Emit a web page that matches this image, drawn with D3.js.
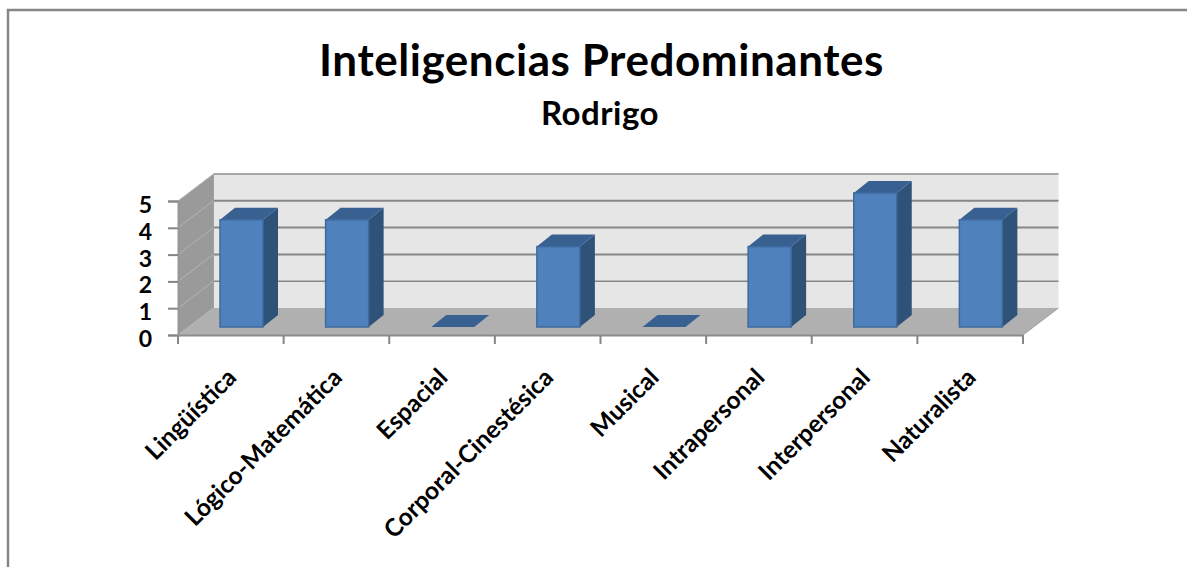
<!DOCTYPE html>
<html><head><meta charset="utf-8">
<script src="https://cdn.jsdelivr.net/npm/d3@7/dist/d3.min.js"></script>
<style>html,body{margin:0;padding:0;background:#fff}svg{display:block}text{font-family:Lato,"Open Sans",sans-serif;fill:#000}</style>
</head><body><svg id="c" width="1187" height="567"></svg>
<script>
const categories=["Lingüística","Lógico-Matemática","Espacial","Corporal-Cinestésica","Musical","Intrapersonal","Interpersonal","Naturalista"];
const values=[4,4,0,3,0,3,5,4];
const yTicks=[0,1,2,3,4,5];
const titleText="Inteligencias Predominantes";
const subtitleText="Rodrigo";

const svg=d3.select("#c");
const x=d3.scaleBand().domain(categories).range([178,1023]);
const y=d3.scaleLinear().domain([0,5]).range([335,201]);
const depthX=35.5, depthY=-27, barDX=15, barDY=-12, barShiftY=-8;
const barLeft=42, barW=43;
const xEnd=x.range()[1], xStart=x.range()[0];
const poly=p=>p.map(d=>d.join(",")).join(" ");

// frame
svg.append("path").attr("d","M8,567V10H1187").attr("fill","none").attr("stroke","#868686").attr("stroke-width",2.5);

// walls
const topY=y(5)+depthY;
svg.append("polygon").attr("points",poly([[xStart+depthX,topY],[xEnd+depthX,topY],[xEnd+depthX,y(0)+depthY],[xStart+depthX,y(0)+depthY]])).attr("fill","#e6e6e6");
svg.append("polygon").attr("points",poly([[xStart,y(5)],[xStart+depthX,topY],[xStart+depthX,y(0)+depthY],[xStart,y(0)]])).attr("fill","#9a9a9a");
svg.append("polygon").attr("points",poly([[xStart,y(0)],[xStart+depthX,y(0)+depthY],[xEnd+depthX,y(0)+depthY],[xEnd,y(0)]])).attr("fill","#b0b0b0");

// gridlines
const grid=svg.append("g").attr("fill","none").attr("stroke","#868686");
yTicks.forEach(t=>{
  if(t>0) grid.append("line").attr("x1",xStart+depthX).attr("x2",xEnd+depthX).attr("y1",y(t)+depthY).attr("y2",y(t)+depthY).attr("stroke",t===5?"#a8a8a8":"#868686").attr("stroke-width",t===1?1.5:2);
  grid.append("line").attr("x1",xStart).attr("x2",xStart+depthX).attr("y1",y(t)).attr("y2",y(t)+depthY).attr("stroke","#b4b4b4").attr("stroke-width",1);
});
grid.append("line").attr("x1",xStart+depthX).attr("x2",xStart+depthX).attr("y1",topY).attr("y2",y(0)+depthY).attr("stroke","#a0a0a0");
grid.append("line").attr("x1",xEnd).attr("x2",xEnd+depthX).attr("y1",y(0)).attr("y2",y(0)+depthY).attr("stroke","#a0a0a0");

// axes
const xAxis=d3.axisBottom(x).tickSize(0).tickFormat("");
const gx=svg.append("g").attr("transform",`translate(0,${y(0)})`).call(xAxis);
gx.select(".domain").attr("stroke","#8c8c8c").attr("stroke-width",2);
gx.selectAll(".tick").remove();
svg.append("g").selectAll("line").data(categories.map((c)=>x(c)).concat([xEnd])).join("line")
  .attr("x1",d=>d).attr("x2",d=>d).attr("y1",y(0)).attr("y2",y(0)+9).attr("stroke","#868686").attr("stroke-width",2);

const gy=svg.append("g").attr("transform",`translate(${xStart},0)`).call(d3.axisLeft(y).tickValues(yTicks).tickFormat(d3.format("d")).tickSize(10).tickPadding(16));
gy.select(".domain").attr("stroke","#969696").attr("stroke-width",2);
gy.selectAll("line").attr("stroke","#868686").attr("stroke-width",2);
gy.selectAll("text").attr("dy","0.5em").style("font-size","23px").style("font-weight",700).style("font-family","Lato");

// bars
const bars=svg.append("g").selectAll("g").data(categories.map((c,i)=>({c,v:values[i]}))).join("g");
bars.each(function(d){
  const g=d3.select(this), l=x(d.c)+barLeft, r=l+barW, b=y(0)+barShiftY, t=y(d.v)+barShiftY;
  g.append("polygon").attr("points",poly([[r,t],[r+barDX,t+barDY],[r+barDX,b+barDY],[r,b]])).attr("fill","#2f5279");
  g.append("polygon").attr("points",poly([[l,t],[l+barDX,t+barDY],[r+barDX,t+barDY],[r,t]])).attr("fill","#386192");
  if(d.v>0) g.append("rect").attr("x",l).attr("y",t).attr("width",barW).attr("height",b-t).attr("fill","#4f81bd").attr("stroke","#3e6a9f").attr("stroke-width",1.5);
});

// category labels
svg.append("g").selectAll("text").data(categories).join("text")
  .attr("transform",c=>`translate(${x(c)+x.bandwidth()/2+7},${y(0)+44}) rotate(-45)`)
  .attr("text-anchor","end").style("font-size","24.5px").style("font-weight",700).text(c=>c);

// titles
svg.append("text").attr("x",601.5).attr("y",76).attr("text-anchor","middle").style("font-size","44px").style("font-weight",700).style("letter-spacing","0.55px").text(titleText);
svg.append("text").attr("x",600).attr("y",125).attr("text-anchor","middle").style("font-size","33px").style("font-weight",700).style("letter-spacing","0.5px").text(subtitleText);
</script></body></html>
